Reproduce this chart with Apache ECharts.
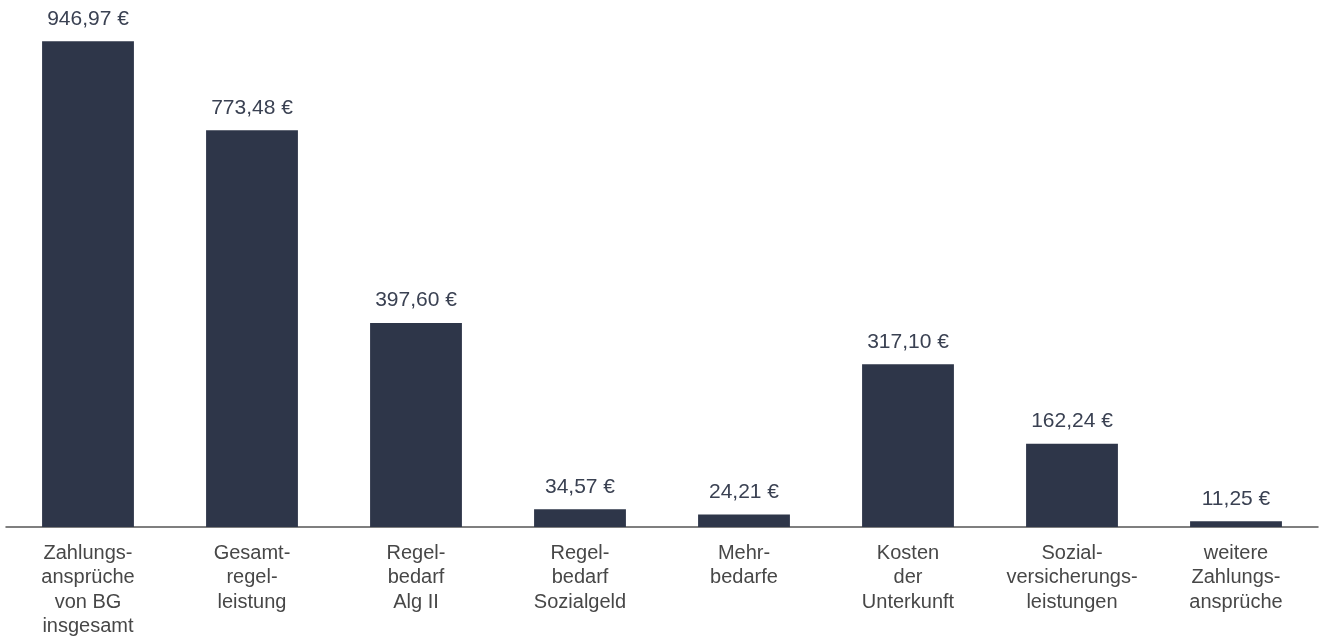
<!DOCTYPE html>
<html>
<head>
<meta charset="utf-8">
<script src="https://cdn.jsdelivr.net/npm/echarts@6/dist/echarts.min.js"></script>
<style>html,body{margin:0;padding:0;background:#fff}#c{width:1320px;height:639px}</style>
</head>
<body>
<div id="c"></div>
<script>
const categories = [
  "Zahlungs-\nansprüche\nvon BG\ninsgesamt",
  "Gesamt-\nregel-\nleistung",
  "Regel-\nbedarf\nAlg II",
  "Regel-\nbedarf\nSozialgeld",
  "Mehr-\nbedarfe",
  "Kosten\nder\nUnterkunft",
  "Sozial-\nversicherungs-\nleistungen",
  "weitere\nZahlungs-\nansprüche"
];
const values = [946.97, 773.48, 397.60, 34.57, 24.21, 317.10, 162.24, 11.25];

const chart = echarts.init(document.getElementById('c'));
chart.setOption({
  animation: false,
  grid: {left: 6, right: 2, top: 14, bottom: 112, containLabel: false},
  xAxis: {
    type: 'category',
    data: categories,
    axisLine: {lineStyle: {color: '#555', width: 1.5}},
    axisTick: {show: false},
    axisLabel: {
      interval: 0, margin: 14,
      fontFamily: 'Liberation Sans, Arial, sans-serif',
      fontSize: 20, lineHeight: 24.5, color: '#474747'
    }
  },
  yAxis: {
    type: 'value', min: 0, max: 1000,
    show: false,
    splitLine: {show: false}
  },
  series: [{
    type: 'bar',
    data: values,
    barWidth: '56%',
    itemStyle: {color: '#2e3649'},
    label: {
      show: true, position: 'top', distance: 12,
      fontFamily: 'Liberation Sans, Arial, sans-serif',
      fontSize: 21, color: '#3a4152',
      formatter: p => p.value.toFixed(2).replace('.', ',') + ' €'
    }
  }]
});
</script>
</body>
</html>
